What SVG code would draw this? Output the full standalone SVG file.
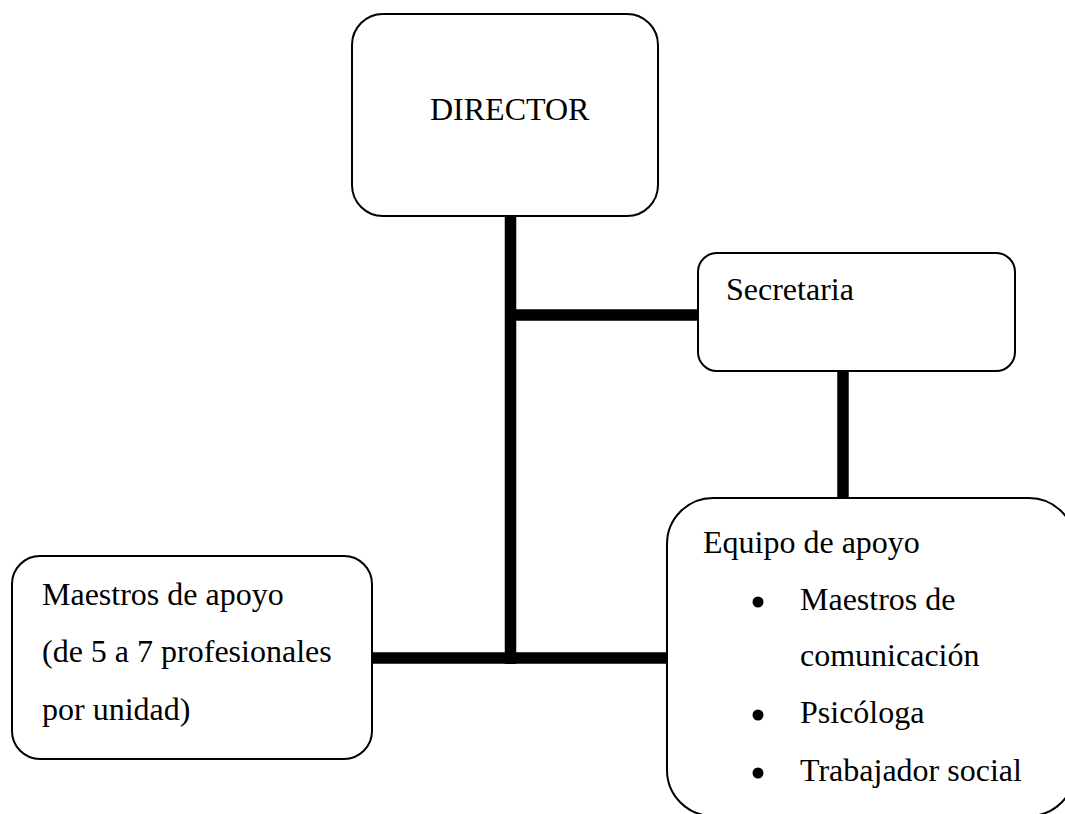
<svg xmlns="http://www.w3.org/2000/svg" width="1065" height="814" viewBox="0 0 1065 814">
<style>
.box{fill:#ffffff;stroke:#000000;stroke-width:2}
.con{stroke:#000000;stroke-width:11.5;fill:none;stroke-linecap:butt}
.bul{fill:#000000}
</style>
<rect width="1065" height="814" fill="#ffffff"/>
<g id="connectors">
<line class="con" x1="510.5" y1="216" x2="510.5" y2="664"/>
<line class="con" x1="505" y1="315" x2="698" y2="315"/>
<line class="con" x1="843" y1="371" x2="843" y2="498"/>
<line class="con" x1="372" y1="658" x2="667" y2="658"/>
</g>
<g font-family="'Liberation Serif', 'Times New Roman', Times, serif" font-size="32" fill="#000000">
<g id="director">
<rect class="box" x="352" y="14" width="306" height="202" rx="31" ry="31"/>
<text x="430" y="120">DIRECTOR</text>
</g>
<g id="secretaria">
<rect class="box" x="698" y="253" width="317" height="118" rx="19" ry="19"/>
<text x="726" y="300">Secretaria</text>
</g>
<g id="maestros">
<rect class="box" x="12" y="556" width="360" height="203" rx="28" ry="28"/>
<text x="42" y="605">Maestros de apoyo</text>
<text x="42" y="662">(de 5 a 7 profesionales</text>
<text x="42" y="720">por unidad)</text>
</g>
<g id="equipo">
<rect class="box" x="667" y="498" width="408" height="318" rx="46" ry="46"/>
<text x="703" y="553">Equipo de apoyo</text>
<circle class="bul" cx="758" cy="602" r="5.5"/>
<text x="800" y="610">Maestros de</text>
<text x="800" y="666">comunicación</text>
<circle class="bul" cx="758" cy="715" r="5.5"/>
<text x="800" y="723">Psicóloga</text>
<circle class="bul" cx="758" cy="773" r="5.5"/>
<text x="800" y="781">Trabajador social</text>
</g>
</g>
</svg>
